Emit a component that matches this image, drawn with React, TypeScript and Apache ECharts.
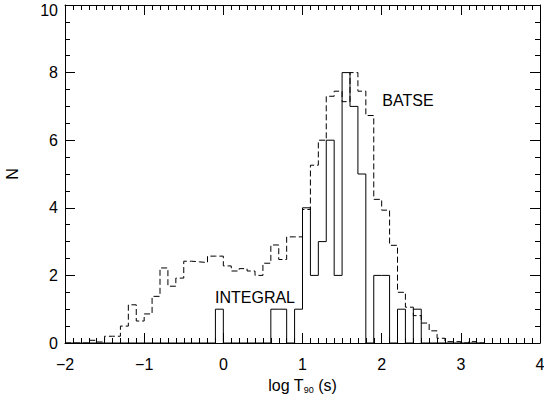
import React, { useEffect, useRef } from "react";
import * as echarts from "echarts";

// Histogram bins: left edge of first bin and bin width (log T90 units)
const binStart = -2.0;
const binWidth = 0.1;

// BATSE (dashed, normalised) counts per bin, starting at -2.0
const batseCounts = [
  0, 0, 0, 0.08, 0.03, 0.2, 0.2, 0.5, 1.13, 0.65,
  0.86, 1.38, 2.22, 1.68, 1.92, 2.42, 2.4, 2.38, 2.57, 2.57,
  2.28, 2.13, 2.2, 2.13, 2.0, 2.36, 2.9, 2.47, 3.14, 3.14,
  3.95, 5.26, 6.0, 7.3, 7.45, 7.14, 8.0, 7.45, 6.73, 4.25,
  3.93, 2.89, 1.5, 1.06, 0.81, 0.59, 0.36, 0.14, 0.04, 0.04,
  0, 0.04, 0,
];

// INTEGRAL (solid) counts per bin, starting at -2.0
const integralCounts = [
  0, 0, 0, 0, 0, 0, 0, 0, 0, 0,
  0, 0, 0, 0, 0, 0, 0, 0, 0, 1,
  0, 0, 0, 0, 0, 0, 1, 1, 0, 1,
  4, 2, 3, 6, 2, 8, 7, 5, 0, 2,
  2, 0, 1, 0, 1, 0, 0, 0, 0, 0,
  0, 0, 0,
];

const xTicks = [-2, -1, 0, 1, 2, 3, 4];
const yTicks = [0, 2, 4, 6, 8, 10];

const labels = {
  integral: "INTEGRAL",
  batse: "BATSE",
  xName: "log T{sub|90} (s)",
  yName: "N",
};

function toSteps(vals: number[]): number[][] {
  const pts = vals.map((v, i) => [
    Math.round((binStart + i * binWidth) * 10) / 10,
    v,
  ]);
  pts.push([
    Math.round((binStart + vals.length * binWidth) * 10) / 10,
    vals[vals.length - 1],
  ]);
  return pts;
}

const FONT = "Liberation Sans";

export default function App() {
  const ref = useRef<HTMLDivElement>(null);
  useEffect(() => {
    if (!ref.current) return;
    const chart = echarts.init(ref.current, undefined, { renderer: "svg" });
    const xMin = xTicks[0];
    const xMax = xTicks[xTicks.length - 1];
    const yMin = yTicks[0];
    const yMax = yTicks[yTicks.length - 1];
    const tickCommon = {
      axisLine: { show: true, onZero: false, lineStyle: { color: "#000", width: 1 } },
      splitLine: { show: false },
      minorSplitLine: { show: false },
    };
    const fmt = (v: number) => (v < 0 ? "\u2212" + Math.abs(v) : String(v));
    chart.setOption({
      animation: false,
      backgroundColor: "#fff",
      grid: {
        left: 65,
        right: 4,
        top: 5,
        bottom: 60,
        containLabel: false,
        outerBoundsMode: "none",
      },
      xAxis: [
        {
          type: "value",
          position: "bottom",
          min: xMin,
          max: xMax,
          interval: 1,
          ...tickCommon,
          axisTick: { show: true, inside: true, length: 10, lineStyle: { color: "#000" } },
          minorTick: { show: true, splitNumber: 10, length: 5, lineStyle: { color: "#000" } },
          axisLabel: {
            show: true,
            fontSize: 16,
            fontFamily: FONT,
            color: "#000",
            margin: 13,
            formatter: fmt,
          },
          name: labels.xName,
          nameLocation: "middle",
          nameGap: 34,
          nameTextStyle: {
            fontSize: 16,
            fontFamily: FONT,
            color: "#000",
            rich: {
              sub: { fontSize: 9, fontFamily: FONT, color: "#000", verticalAlign: "bottom", padding: [8, 0, 0, 0] },
            },
          },
        },
        {
          type: "value",
          position: "top",
          min: xMin,
          max: xMax,
          interval: 1,
          ...tickCommon,
          axisTick: { show: true, inside: true, length: 10, lineStyle: { color: "#000" } },
          minorTick: { show: true, splitNumber: 10, length: 5, lineStyle: { color: "#000" } },
          axisLabel: { show: false },
        },
      ],
      yAxis: [
        {
          type: "value",
          position: "left",
          min: yMin,
          max: yMax,
          interval: 2,
          ...tickCommon,
          axisTick: { show: true, inside: true, length: 10, lineStyle: { color: "#000" } },
          minorTick: { show: true, splitNumber: 4, length: 5, lineStyle: { color: "#000" } },
          axisLabel: {
            show: true,
            fontSize: 16,
            fontFamily: FONT,
            color: "#000",
            margin: 7,
            formatter: (v: number) => (v === yMax ? `{t|${v}}` : String(v)),
            rich: {
              t: { fontSize: 16, fontFamily: FONT, color: "#000", padding: [11, 0, 0, 0] },
            },
          },
          name: labels.yName,
          nameLocation: "middle",
          nameGap: 45,
          nameRotate: 90,
          nameTextStyle: { fontSize: 16, fontFamily: FONT, color: "#000" },
        },
        {
          type: "value",
          position: "right",
          min: yMin,
          max: yMax,
          interval: 2,
          ...tickCommon,
          axisTick: { show: true, inside: true, length: 10, lineStyle: { color: "#000" } },
          minorTick: { show: true, splitNumber: 4, length: 5, lineStyle: { color: "#000" } },
          axisLabel: { show: false },
        },
      ],
      series: [
        {
          name: "BATSE",
          type: "line",
          step: "end",
          xAxisIndex: 0,
          yAxisIndex: 0,
          data: toSteps(batseCounts),
          showSymbol: false,
          symbol: "none",
          lineStyle: { color: "#000", width: 1, type: [6, 3] },
          z: 2,
        },
        {
          name: "INTEGRAL",
          type: "line",
          step: "end",
          xAxisIndex: 0,
          yAxisIndex: 0,
          data: toSteps(integralCounts),
          showSymbol: false,
          symbol: "none",
          lineStyle: { color: "#000", width: 1 },
          z: 3,
        },
      ],
      graphic: [
        {
          type: "text",
          x: 255,
          y: 297,
          style: {
            text: labels.integral,
            fontSize: 16,
            fontFamily: FONT,
            fill: "#000",
            align: "center",
            verticalAlign: "middle",
          },
        },
        {
          type: "text",
          x: 408,
          y: 100,
          style: {
            text: labels.batse,
            fontSize: 16,
            fontFamily: FONT,
            fill: "#000",
            align: "center",
            verticalAlign: "middle",
          },
        },
      ],
    });
    return () => chart.dispose();
  }, []);
  return (
    <div
      ref={ref}
      style={{ position: "fixed", left: 0, top: 0, width: 544, height: 403, background: "#fff" }}
    />
  );
}
